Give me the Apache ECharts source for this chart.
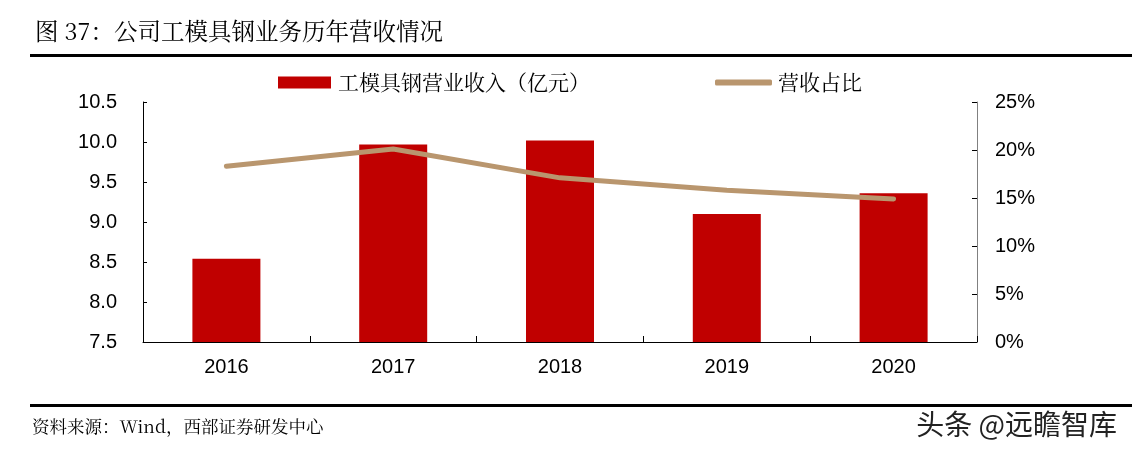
<!DOCTYPE html>
<html>
<head>
<meta charset="utf-8">
<script src="https://cdn.jsdelivr.net/npm/echarts@6/dist/echarts.min.js"></script>
<style>
html,body{margin:0;padding:0;background:#fff;}
#c{width:1132px;height:454px;}
</style>
</head>
<body>
<div id="c"></div>
<script>
const categories = ['2016', '2017', '2018', '2019', '2020'];
const revenue = [8.54, 9.97, 10.02, 9.10, 9.36];
const share = [18.3, 20.1, 17.1, 15.8, 14.9];
const leftTicks = [7.5, 10.5, 0.5];
const rightTicks = [0, 25, 5];
const seriesNames = ['工模具钢营业收入（亿元）', '营收占比'];

const cjk = '"SimSun","Noto Serif CJK SC","Noto Sans CJK SC",serif';
const latin = '"Liberation Sans",Arial,sans-serif';

const chart = echarts.init(document.getElementById('c'));
chart.setOption({
  backgroundColor: '#fff',
  animation: false,
  grid: {left: 143, right: 155, top: 102, bottom: 112, containLabel: false},
  legend: [
    {data: [{name: seriesNames[0], icon: 'rect'}], left: 278, top: 72, padding: 0,
     itemWidth: 53, itemHeight: 12, itemGap: 7,
     textStyle: {fontFamily: cjk, fontSize: 21, color: '#000', padding: [0, 0, 0, 2]}},
    {data: [{name: seriesNames[1], icon: 'roundRect'}], left: 715, top: 72, padding: 0,
     itemWidth: 57, itemHeight: 6,
     textStyle: {fontFamily: cjk, fontSize: 21, color: '#000', padding: [0, 0, 0, 1]}}
  ],
  xAxis: {
    type: 'category', data: categories, boundaryGap: true,
    axisLine: {lineStyle: {color: '#000', width: 1}},
    axisTick: {show: true, inside: true, length: 6, lineStyle: {color: '#000'}},
    axisLabel: {fontFamily: latin, fontSize: 20, color: '#000', margin: 15},
    splitLine: {show: false}
  },
  yAxis: [
    {type: 'value', min: leftTicks[0], max: leftTicks[1], interval: leftTicks[2],
     axisLine: {show: true, lineStyle: {color: '#000'}},
     axisTick: {show: true, inside: true, length: 4, lineStyle: {color: '#000'}},
     axisLabel: {fontFamily: latin, fontSize: 20, color: '#000', margin: 26,
       formatter: v => v.toFixed(1)},
     splitLine: {show: false}},
    {type: 'value', min: rightTicks[0], max: rightTicks[1], interval: rightTicks[2],
     position: 'right',
     axisLine: {show: true, lineStyle: {color: '#808080'}},
     axisTick: {show: true, inside: true, length: 5, lineStyle: {color: '#000'}},
     axisLabel: {fontFamily: latin, fontSize: 20, color: '#000', margin: 18,
       formatter: v => v + '%'},
     splitLine: {show: false}}
  ],
  series: [
    {name: seriesNames[0], type: 'bar', data: revenue, barWidth: 68,
     itemStyle: {color: '#C00000'}, yAxisIndex: 0},
    {name: seriesNames[1], type: 'line', data: share, yAxisIndex: 1,
     symbol: 'none', smooth: false,
     lineStyle: {color: '#B9966E', width: 5, cap: 'round', join: 'round'},
     itemStyle: {color: '#B9966E'}}
  ],
  graphic: [
    {type: 'text', left: 35, top: 19, style: {text: '图 37：公司工模具钢业务历年营收情况',
      font: '23.5px ' + cjk, fill: '#000'}},
    {type: 'rect', shape: {x: 30, y: 54, width: 1102, height: 3}, style: {fill: '#000'}},
    {type: 'rect', shape: {x: 30, y: 404, width: 1102, height: 3}, style: {fill: '#000'}},
    {type: 'text', left: 32, top: 418, style: {text: '资料来源：Wind，西部证券研发中心',
      font: '17.5px ' + cjk, fill: '#000'}},
    {type: 'text', right: 15, top: 410, style: {text: '头条 @远瞻智库',
      font: '28px "Noto Sans CJK SC",sans-serif', fill: '#222'}}
  ]
});
</script>
</body>
</html>
